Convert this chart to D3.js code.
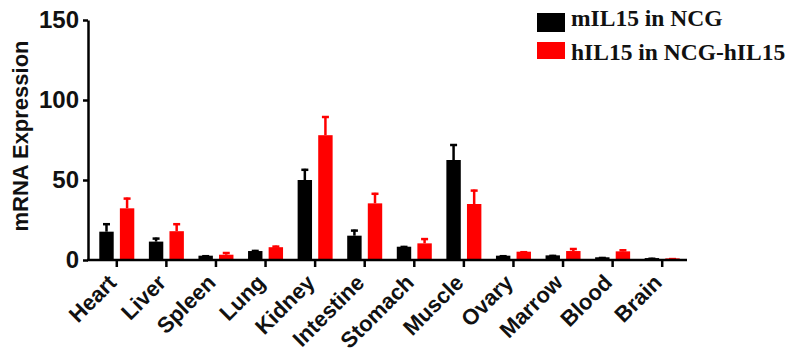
<!DOCTYPE html>
<html>
<head>
<meta charset="utf-8">
<script src="https://cdn.jsdelivr.net/npm/d3@7"></script>
<style>
  body { margin: 0; background: #fff; }
  svg { display: block; }
</style>
</head>
<body>
<div id="chart"></div>
<script>
// organs along the x axis
const categories = ["Heart", "Liver", "Spleen", "Lung", "Kidney", "Intestine",
  "Stomach", "Muscle", "Ovary", "Marrow", "Blood", "Brain"];
const seriesNames = ["mIL15 in NCG", "hIL15 in NCG-hIL15"];
// mean expression + upper error (SEM)
const mIL15 = [17.7, 11.5, 2.7, 5.6, 50, 15.2, 8.3, 62.5, 2.7, 2.9, 1.7, 1.2];
const mIL15Err = [5.3, 2.5, 0.3, 0.7, 7, 3.8, 0.5, 10, 0.3, 0.3, 0.2, 0.2];
const hIL15 = [32.3, 18, 3.3, 8, 78, 35.4, 10.4, 35, 5.2, 5.6, 5.4, 1];
const hIL15Err = [6.7, 5, 1.7, 1, 12, 6.6, 3.3, 9, 0.3, 1.9, 1.3, 0.2];
const yTicks = [0, 50, 100, 150];
const colors = ["#000000", "#ff0000"];

const W = 788, H = 352;
const svg = d3.select("#chart").append("svg")
  .attr("width", W)
  .attr("height", H);

const axisX = 88;
const y = d3.scaleLinear().domain([0, 150]).range([260, 20]);
const x0 = d3.scaleBand().domain(categories).range([92, 687]).padding(0);
const x1 = d3.scaleBand().domain(seriesNames).range([-17.5, 17.5]).paddingInner(0.3);

const rows = categories.map((c, i) => ({
  name: c,
  vals: [
    { s: seriesNames[0], v: mIL15[i], e: mIL15Err[i], c: colors[0] },
    { s: seriesNames[1], v: hIL15[i], e: hIL15Err[i], c: colors[1] }
  ]
}));

// bars + error bars
const groups = svg.append("g").selectAll("g")
  .data(rows)
  .enter().append("g")
  .attr("transform", d => "translate(" + (x0(d.name) + x0.bandwidth() / 2) + ",0)");

groups.selectAll("rect")
  .data(d => d.vals)
  .enter().append("rect")
  .attr("x", d => x1(d.s))
  .attr("width", x1.bandwidth())
  .attr("y", d => y(d.v))
  .attr("height", d => y(0) - y(d.v))
  .attr("fill", d => d.c);

groups.selectAll("line.err")
  .data(d => d.vals)
  .enter().append("line")
  .attr("class", "err")
  .attr("x1", d => x1(d.s) + x1.bandwidth() / 2)
  .attr("x2", d => x1(d.s) + x1.bandwidth() / 2)
  .attr("y1", d => y(d.v))
  .attr("y2", d => y(d.v + d.e))
  .attr("stroke", d => d.c)
  .attr("stroke-width", 2.5);

groups.selectAll("line.cap")
  .data(d => d.vals)
  .enter().append("line")
  .attr("class", "cap")
  .attr("x1", d => x1(d.s) + x1.bandwidth() / 2 - 3.5)
  .attr("x2", d => x1(d.s) + x1.bandwidth() / 2 + 3.5)
  .attr("y1", d => y(d.v + d.e) + 1)
  .attr("y2", d => y(d.v + d.e) + 1)
  .attr("stroke", d => d.c)
  .attr("stroke-width", 2.5);

// y axis
const yAxis = svg.append("g")
  .attr("transform", "translate(" + axisX + ",0)")
  .call(d3.axisLeft(y).tickValues(yTicks).tickSize(5).tickSizeOuter(0).tickPadding(4));
yAxis.select(".domain").attr("stroke-width", 2.5);
yAxis.selectAll(".tick line").attr("stroke-width", 2.5);
yAxis.selectAll(".tick text")
  .attr("font-family", "Liberation Sans, Arial, sans-serif")
  .attr("font-weight", "bold")
  .attr("font-size", 24)
  .attr("fill", "#111");

// x axis
const xAxis = svg.append("g")
  .attr("transform", "translate(0," + y(0) + ")")
  .call(d3.axisBottom(x0).tickSize(7).tickSizeOuter(0));
xAxis.select(".domain").remove();
xAxis.append("line")
  .attr("x1", axisX - 1).attr("x2", x0.range()[1])
  .attr("stroke", "#000").attr("stroke-width", 2.5);
xAxis.selectAll(".tick line").attr("stroke-width", 2.5);
xAxis.selectAll(".tick text")
  .attr("font-family", "Liberation Sans, Arial, sans-serif")
  .attr("font-weight", "bold")
  .attr("font-size", 22)
  .attr("fill", "#111")
  .attr("text-anchor", "end")
  .attr("y", 0)
  .attr("dy", 0)
  .attr("transform", "translate(1,24) rotate(-45)");

// y title
svg.append("text")
  .attr("transform", "translate(28,136) rotate(-90)")
  .attr("text-anchor", "middle")
  .attr("font-family", "Liberation Sans, Arial, sans-serif")
  .attr("font-weight", "bold")
  .attr("font-size", 22)
  .attr("fill", "#111")
  .text("mRNA Expression");

// legend
const legend = svg.append("g").selectAll("g")
  .data(seriesNames)
  .enter().append("g")
  .attr("transform", (d, i) => "translate(537," + (13 + i * 29) + ")");
legend.append("rect")
  .attr("width", 28).attr("height", (d, i) => i ? 17 : 19)
  .attr("fill", (d, i) => colors[i]);
legend.append("text")
  .attr("x", 34).attr("y", (d, i) => i ? 18 : 13)
  .attr("font-family", "Liberation Serif, Times New Roman, serif")
  .attr("font-weight", "bold")
  .attr("font-size", 23.5)
  .attr("fill", "#111")
  .text(d => d);
</script>
</body>
</html>
